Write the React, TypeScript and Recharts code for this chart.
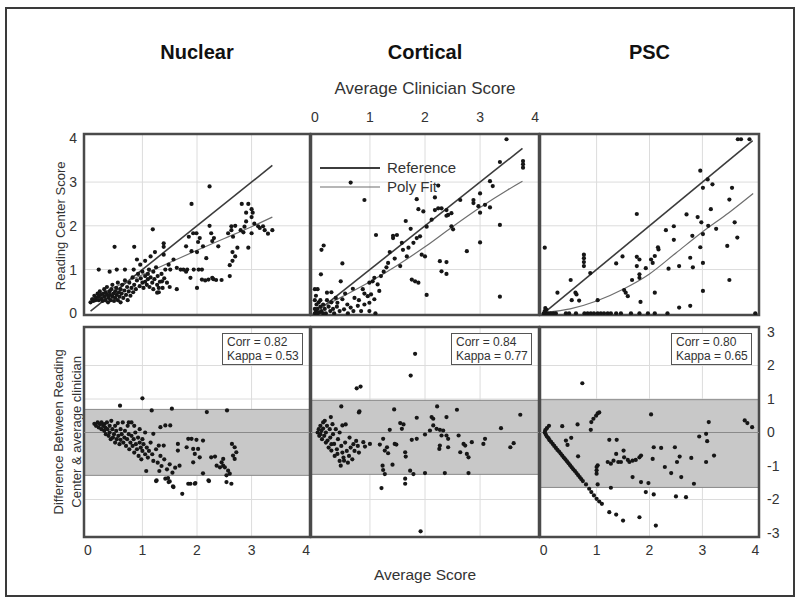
import { CartesianGrid, ComposedChart, Legend, Line, ReferenceArea, ReferenceLine, Scatter, XAxis, YAxis } from "recharts";

type Pair = [number, number];

const panelTitles = ["Nuclear", "Cortical", "PSC"];
const scoreTicks = [0, 1, 2, 3, 4];
const diffTicks = [-3, -2, -1, 0, 1, 2, 3];
const corrValues = ["0.82", "0.84", "0.80"];
const kappaValues = ["0.53", "0.77", "0.65"];
const bandLow = [-1.28, -1.25, -1.64];
const bandHigh = [0.69, 0.96, 0.98];
const legendOrder = ["Reference", "Poly Fit"];

const nuclearRef: Pair[] = [[0.05, 0.05], [3.38, 3.38]];
const corticalRef: Pair[] = [[0.1, 0.1], [3.77, 3.77]];
const pscRef: Pair[] = [[0.03, 0.03], [3.95, 3.95]];
const nuclearPoly: Pair[] = [[0.05, 0.33], [0.5, 0.6], [1, 0.88], [1.5, 1.16], [2, 1.44], [2.5, 1.71], [3, 1.98], [3.38, 2.2]];
const corticalPoly: Pair[] = [[0.1, 0.12], [0.5, 0.38], [1, 0.72], [1.5, 1.1], [2, 1.52], [2.5, 1.98], [3, 2.42], [3.5, 2.82], [3.77, 3.02]];
const pscPoly: Pair[] = [[0.05, 0.02], [0.5, 0.1], [1, 0.28], [1.5, 0.55], [2, 0.9], [2.5, 1.38], [3, 1.86], [3.5, 2.3], [3.96, 2.74]];

const nuclearTop: Pair[] = [
  [0.05, 0.25], [0.08, 0.32], [0.1, 0.28], [0.12, 0.4], [0.14, 0.3], [0.15, 0.35], [0.18, 0.45], [0.2, 0.3], [0.2, 0.38], [0.22, 0.5],
  [0.24, 0.42], [0.25, 0.33], [0.27, 0.28], [0.28, 0.45], [0.3, 0.55], [0.3, 0.38], [0.32, 0.3], [0.33, 0.48], [0.35, 0.42], [0.35, 0.6],
  [0.37, 0.25], [0.38, 0.35], [0.4, 0.5], [0.4, 0.42], [0.42, 0.3], [0.43, 0.55], [0.45, 0.38], [0.45, 0.65], [0.47, 0.45], [0.48, 0.28],
  [0.5, 0.5], [0.5, 0.35], [0.52, 0.58], [0.53, 0.42], [0.55, 0.3], [0.55, 0.7], [0.57, 0.48], [0.58, 0.38], [0.6, 0.55], [0.6, 0.25],
  [0.62, 0.45], [0.63, 0.65], [0.65, 0.35], [0.67, 0.52], [0.68, 0.75], [0.7, 0.42], [0.72, 0.6], [0.73, 0.3], [0.75, 0.5], [0.76, 0.7],
  [0.78, 0.4], [0.8, 0.58], [0.82, 0.82], [0.83, 0.48], [0.85, 0.65], [0.88, 0.55], [0.9, 0.75], [0.92, 0.9],
  [0.95, 0.62], [0.97, 0.8], [1.0, 0.7], [1.0, 0.95], [1.02, 0.58], [1.05, 0.85], [1.05, 0.72], [1.08, 0.65], [1.1, 0.9], [1.1, 0.78],
  [1.12, 1.0], [1.13, 0.6], [1.15, 0.82], [1.18, 0.7], [1.2, 0.95], [1.2, 0.55], [1.22, 0.78], [1.25, 1.05], [1.27, 0.65], [1.28, 0.85],
  [1.3, 0.48], [1.32, 0.72], [1.35, 0.9], [1.37, 0.58], [1.4, 0.8], [1.42, 1.0], [1.45, 0.7],
  [0.2, 1.0], [0.4, 0.95], [0.53, 1.0], [0.68, 1.0], [0.84, 1.0], [0.96, 1.11], [1.57, 1.23], [1.48, 1.11], [1.51, 1.0], [1.63, 1.04],
  [1.7, 1.0], [1.82, 1.0], [1.94, 1.0], [2.03, 1.0], [2.09, 1.0],
  [0.49, 1.52], [0.85, 1.52], [1.19, 1.92], [1.39, 1.6], [1.39, 1.52], [1.23, 1.4], [0.9, 1.23], [1.39, 1.34], [1.05, 1.2], [1.15, 1.3],
  [1.88, 0.81], [2.0, 0.58], [1.63, 0.55], [1.3, 0.58], [1.36, 0.73], [1.27, 0.47], [2.09, 0.77], [2.21, 0.77], [2.28, 0.81], [1.5, 0.6],
  [2.15, 0.75], [2.3, 0.78], [2.35, 0.76], [2.45, 0.76], [2.6, 0.85], [2.6, 1.1], [2.65, 1.2], [1.8, 0.95], [1.75, 1.0], [1.9, 1.42],
  [1.8, 1.53], [2.11, 1.53], [2.17, 1.26], [2.39, 1.53], [1.93, 1.83], [1.99, 1.83], [2.05, 1.72], [2.02, 1.63], [2.23, 2.0], [2.26, 1.83],
  [2.31, 1.72], [2.28, 1.65], [2.23, 2.9], [1.9, 2.5], [1.85, 1.75], [2.0, 1.4],
  [2.82, 2.5], [2.94, 2.5], [3.0, 2.38], [3.02, 2.3], [3.0, 2.2], [2.9, 2.1], [2.87, 1.98], [2.63, 1.99], [2.63, 1.9], [3.12, 1.99],
  [3.21, 1.99], [3.24, 1.9], [3.3, 1.82], [3.38, 1.9], [3.0, 1.83], [2.94, 1.5], [2.74, 1.5], [2.57, 1.83], [2.66, 1.75], [2.7, 1.3],
  [2.65, 1.4], [2.8, 1.9], [2.85, 1.85], [3.05, 2.05], [3.15, 1.95], [2.7, 2.0], [2.9, 2.3],
];

const nuclearDiff: Pair[] = [
  [0.12, 0.26], [0.15, 0.2], [0.18, 0.3], [0.2, 0.15], [0.22, 0.25], [0.25, 0.1], [0.25, 0.3], [0.28, 0.2], [0.3, 0.05], [0.3, 0.25],
  [0.32, 0.15], [0.33, -0.05], [0.35, 0.3], [0.36, 0.1], [0.38, -0.1], [0.4, 0.2], [0.4, 0.0], [0.42, -0.2], [0.43, 0.35], [0.45, 0.1],
  [0.46, -0.15], [0.48, -0.05], [0.5, 0.2], [0.5, -0.3], [0.52, 0.05], [0.53, -0.2], [0.55, 0.28], [0.56, -0.1], [0.58, -0.35], [0.6, 0.1],
  [0.6, -0.22], [0.62, -0.05], [0.64, 0.3], [0.65, -0.3], [0.67, -0.15], [0.68, 0.05], [0.7, -0.4], [0.72, -0.2], [0.73, 0.2], [0.75, -0.05],
  [0.76, -0.5], [0.78, -0.3], [0.8, -0.1], [0.8, 0.3], [0.82, -0.4], [0.84, -0.2], [0.85, -0.6], [0.87, 0.0], [0.88, -0.35], [0.9, -0.5],
  [0.92, -0.15], [0.93, -0.7], [0.95, -0.3], [0.97, -0.45], [0.98, -0.8], [1.0, -0.55], [1.0, -0.2], [1.02, -0.35], [1.05, -0.65], [1.05, 0.0],
  [1.08, -0.45], [1.1, -0.75], [1.12, -0.55], [1.15, -0.3], [1.18, -0.65], [1.2, -0.85], [1.2, -0.04], [1.25, -0.5], [1.28, -0.9], [1.3, -0.39],
  [1.33, -0.7], [1.35, -1.0], [1.39, -0.39], [1.4, -0.8], [1.45, -1.1], [1.5, -0.95], [1.55, -1.2], [1.6, -1.05],
  [1.0, 1.02], [0.59, 0.8], [1.17, 0.66], [1.54, 0.71], [2.18, 0.61], [2.55, 0.66], [1.33, 0.16], [1.42, 0.21], [1.51, 0.21], [0.75, 0.3],
  [0.85, 0.2], [0.95, 0.1],
  [1.26, -1.43], [1.42, -1.38], [1.48, -1.48], [1.57, -1.63], [1.88, -1.53], [1.97, -1.51], [2.21, -1.43], [1.73, -1.83], [1.25, -1.45],
  [1.07, -1.15], [1.31, -1.15], [1.47, -1.36], [1.5, -1.46], [1.56, -1.61],
  [1.65, -0.34], [1.65, -0.54], [1.84, -0.19], [1.9, -0.19], [1.99, -0.22], [1.81, -0.44], [1.93, -0.49], [2.02, -0.49], [1.96, -0.64],
  [1.93, -0.89], [2.05, -0.74], [1.68, -0.99], [1.84, -1.53], [1.96, -1.53], [2.11, -1.22], [2.22, -1.45], [2.11, -0.24],
  [2.26, -0.74], [2.33, -0.72], [2.36, -0.99], [2.42, -1.04], [2.48, -0.99], [2.45, -0.89], [2.51, -1.04], [2.57, -1.14], [2.54, -1.28],
  [2.6, -1.23], [2.63, -1.53], [2.54, -1.48], [2.48, -0.79], [2.64, -0.34], [2.69, -0.44], [2.72, -0.59], [2.66, -0.69], [2.69, -0.79],
];

const corticalTop: Pair[] = [
  [0.0, 0.0], [0.02, 0.05], [0.05, 0.0], [0.05, 0.1], [0.08, 0.02], [0.1, 0.15], [0.12, 0.05], [0.15, 0.0], [0.03, 0.2], [0.07, 0.25],
  [0.1, 0.3], [0.15, 0.2], [0.18, 0.1], [0.2, 0.0], [0.22, 0.3], [0.25, 0.15], [0.28, 0.05], [0.3, 0.25], [0.33, 0.1], [0.35, 0.0],
  [0.38, 0.35], [0.4, 0.15], [0.45, 0.05], [0.0, 0.1], [0.0, 0.3], [0.02, 0.4], [0.0, 0.55], [0.05, 0.55], [0.22, 0.47], [0.3, 0.48],
  [0.47, 0.73], [0.11, 0.89], [0.5, 1.14], [0.12, 1.45], [0.16, 1.55],
  [0.69, 0.56], [0.87, 0.55], [0.99, 0.7], [1.05, 0.73], [1.08, 0.81], [1.14, 0.66], [1.17, 0.51], [1.02, 0.43], [0.96, 0.39], [1.08, 0.32],
  [0.99, 0.24], [0.9, 0.2], [0.78, 0.17], [0.65, 0.13], [0.53, 0.09], [0.59, 0.2], [0.5, 0.32], [0.41, 0.24], [0.84, 0.05], [0.99, 0.05],
  [0.72, 0.35], [0.6, 0.0], [0.7, 0.05], [0.8, 0.3], [1.1, 0.0], [0.55, 0.45], [0.9, 0.45],
  [0.65, 2.99], [0.9, 2.59], [1.11, 1.79], [1.65, 2.11], [1.74, 1.93], [1.49, 1.79], [1.42, 1.72], [1.58, 1.61], [1.36, 1.4], [1.33, 1.15],
  [1.55, 1.08], [1.67, 1.3], [1.85, 1.72], [1.79, 1.61], [1.91, 1.76], [1.94, 1.34], [2.0, 1.3], [2.27, 1.19], [2.39, 1.17], [2.3, 0.96],
  [2.39, 0.9], [1.76, 0.77], [1.82, 0.73], [1.88, 0.7], [2.03, 0.42], [1.42, 1.77], [1.25, 0.95], [1.3, 1.05], [1.2, 0.85], [1.45, 1.25],
  [1.6, 1.45], [1.7, 1.5],
  [1.85, 2.61], [2.18, 2.65], [2.24, 2.92], [1.88, 2.38], [1.97, 2.33], [2.12, 2.14], [2.18, 2.36], [2.24, 2.4], [2.03, 1.98], [2.3, 2.4],
  [2.39, 2.36], [2.42, 2.25], [2.48, 2.29], [2.39, 2.23], [2.64, 2.59], [2.88, 2.59], [2.88, 2.52], [3.0, 2.74], [2.97, 2.45], [3.09, 2.48],
  [3.18, 2.42], [3.0, 2.3], [2.48, 1.99], [2.51, 1.92], [3.0, 1.62], [3.36, 2.02], [3.36, 0.38], [2.76, 1.42],
  [3.48, 3.98], [3.36, 3.46], [3.18, 3.02], [3.23, 2.91], [3.78, 3.48], [3.78, 3.41], [3.78, 3.33],
];

const corticalDiff: Pair[] = [
  [0.05, 0.0], [0.07, 0.1], [0.08, -0.1], [0.1, 0.2], [0.1, -0.05], [0.12, 0.05], [0.13, -0.2], [0.15, 0.3], [0.15, 0.12], [0.17, -0.1],
  [0.18, 0.35], [0.2, -0.3], [0.2, 0.0], [0.22, 0.2], [0.23, -0.24], [0.25, -0.45], [0.27, 0.1], [0.28, -0.15], [0.29, 0.46], [0.3, -0.54],
  [0.3, -0.35], [0.32, 0.25], [0.33, -0.05], [0.35, -0.34], [0.36, -0.7], [0.38, 0.1], [0.4, -0.5], [0.41, -0.64], [0.42, -0.2], [0.45, -0.85],
  [0.45, 0.0], [0.47, -0.99], [0.48, -0.4], [0.5, 0.21], [0.5, -0.6], [0.52, -0.75], [0.53, -0.84], [0.55, -0.3], [0.56, 0.24], [0.58, -0.55],
  [0.6, -0.9], [0.62, -0.7], [0.63, -0.15], [0.65, -0.45], [0.68, -0.8], [0.7, -0.35], [0.72, -0.55], [0.75, -0.25], [0.78, -0.4], [0.8, -0.6],
  [1.82, 2.35], [1.74, 1.7], [0.76, 1.32], [0.83, 1.37], [0.48, 0.78], [0.81, 0.63], [1.44, 0.69], [2.22, 0.78], [2.58, 0.68], [3.73, 0.53],
  [1.85, 0.44], [2.12, 0.46], [2.39, 0.46], [3.38, 0.13], [0.8, 0.6],
  [0.88, -0.29], [0.91, -0.42], [1.0, -0.34], [1.18, -0.36], [1.24, -0.19], [1.27, -0.54], [1.31, -0.44], [1.33, -0.62], [1.23, -0.99],
  [1.24, -1.12], [1.27, -1.24], [1.41, -0.96], [1.45, -0.34], [1.55, 0.28], [1.61, 0.24], [1.58, 0.11], [1.64, -0.59], [1.65, -0.72],
  [1.64, -1.38], [1.64, -1.53], [1.73, -1.14], [1.79, -1.24], [1.76, -0.22], [1.85, -0.19], [2.0, -0.06], [2.09, 0.06], [2.15, 0.41],
  [2.15, 0.21], [2.21, 0.11], [2.27, 0.08], [2.33, 0.06], [2.3, -0.09], [2.39, -0.09], [2.42, -0.19], [2.27, -0.39], [2.26, -0.49],
  [2.42, -0.44], [2.61, -0.09], [2.64, -0.59], [2.7, -0.34], [2.73, -0.39], [2.76, -0.64], [2.79, -0.74], [2.79, -1.21], [2.36, -1.21],
  [2.0, -1.21], [1.21, -1.66], [1.92, -2.95], [2.85, -0.29], [3.06, -0.34], [3.09, -0.19], [3.55, -0.44], [3.61, -0.32], [1.36, 0.08],
  [1.48, -0.36],
];

const pscTop: Pair[] = [
  [3.67, 3.98], [3.73, 3.98], [3.89, 3.98], [2.96, 3.26], [3.1, 3.06], [3.01, 2.87], [3.19, 2.95], [3.56, 2.87], [3.51, 2.6], [3.16, 2.38],
  [2.7, 2.26], [2.91, 2.2], [2.98, 2.08], [3.11, 2.0], [3.26, 1.93], [3.61, 2.08], [3.66, 1.73], [3.47, 1.54], [3.51, 0.76], [3.01, 1.81],
  [2.81, 1.77], [2.96, 1.51], [3.01, 1.15], [3.01, 0.51], [2.46, 1.99], [2.31, 1.9], [2.46, 1.68], [2.77, 1.27], [2.82, 1.05], [2.56, 1.08],
  [2.36, 1.02], [1.76, 2.27], [2.16, 1.51], [2.17, 1.46], [1.49, 1.3], [1.76, 1.29], [1.81, 1.23], [1.76, 1.08], [1.93, 1.03], [2.03, 1.23],
  [2.06, 1.15], [2.1, 1.31], [1.37, 1.14], [1.81, 0.89], [1.81, 0.81], [1.67, 0.76], [2.1, 0.47], [1.83, 0.26], [1.52, 0.53], [1.55, 0.47],
  [1.59, 0.39], [0.76, 1.34], [0.76, 1.26], [0.76, 1.17], [0.76, 1.08], [0.88, 0.92], [0.51, 0.76], [0.26, 0.47], [0.6, 0.47], [0.62, 0.43],
  [0.53, 0.3], [0.67, 0.29], [1.02, 0.3], [0.02, 1.5], [2.56, 0.13], [2.77, 0.17], [4.0, 0.0],
  [0.0, 0.0], [0.04, 0.0], [0.08, 0.0], [0.13, 0.0], [0.18, 0.0], [0.23, 0.0], [0.42, 0.0], [0.48, 0.0], [0.61, 0.0], [0.77, 0.0],
  [0.83, 0.0], [0.89, 0.0], [0.95, 0.0], [1.02, 0.0], [1.08, 0.0], [1.14, 0.0], [1.21, 0.0], [1.27, 0.0], [1.37, 0.0], [1.46, 0.0],
  [1.65, 0.0], [1.81, 0.0], [1.97, 0.0], [2.1, 0.0], [2.34, 0.0], [0.02, 0.05], [0.05, 0.08], [0.03, 0.12],
];

const pscDiff: Pair[] = [
  [0.02, 0.0], [0.04, -0.06], [0.06, -0.12], [0.09, -0.17], [0.11, -0.23], [0.14, -0.28], [0.17, -0.34], [0.2, -0.4], [0.23, -0.46],
  [0.26, -0.52], [0.29, -0.57], [0.32, -0.63], [0.35, -0.69], [0.38, -0.75], [0.41, -0.8], [0.44, -0.86], [0.47, -0.92], [0.5, -0.98],
  [0.53, -1.04], [0.56, -1.1], [0.59, -1.15], [0.62, -1.21], [0.65, -1.27], [0.68, -1.33], [0.71, -1.39], [0.74, -1.45], [0.8, -1.55],
  [0.86, -1.68], [0.9, -1.78], [0.95, -1.88], [1.0, -1.98], [1.05, -2.06], [1.1, -2.13], [0.03, 0.07], [0.06, 0.13], [0.1, 0.2],
  [1.24, -2.38], [1.37, -2.45], [1.5, -2.63], [1.81, -2.53], [2.12, -2.78],
  [0.73, 1.47], [2.03, 0.54], [0.9, 0.31], [0.94, 0.41], [0.99, 0.5], [1.02, 0.57], [1.05, 0.6], [0.89, 0.08], [0.35, 0.19], [0.64, 0.24],
  [0.42, -0.24], [0.45, -0.37], [0.52, -0.16], [0.65, -0.71], [1.24, -0.22], [1.38, -0.22],
  [1.21, -0.88], [1.27, -0.93], [1.32, -0.84], [1.37, -0.64], [1.41, -0.88], [1.46, -0.88], [1.51, -0.54], [1.52, -0.74], [1.59, -0.82],
  [1.62, -0.88], [1.68, -0.84], [1.74, -0.82], [1.81, -0.74], [1.84, -0.69], [1.68, -1.33], [1.84, -1.48], [1.93, -1.78], [1.98, -1.51],
  [2.08, -1.85], [2.06, -0.79], [2.08, -0.44], [2.22, -0.46], [2.29, -1.03], [2.41, -1.21], [2.48, -0.44], [2.52, -0.88], [2.57, -0.72],
  [2.6, -1.33], [2.5, -1.91], [2.69, -1.93], [2.79, -0.76], [2.84, -1.53], [2.94, -0.12], [3.07, -0.04], [3.09, -0.26], [3.07, -0.88],
  [3.22, -0.69], [3.12, 0.31], [3.8, 0.36], [3.85, 0.28], [3.94, 0.16], [1.0, -1.03], [1.0, -1.13], [1.0, -1.23], [1.02, -0.98],
  [1.02, -1.55], [1.27, -1.65],
];

const FONT = '"Liberation Sans", Arial, Helvetica, sans-serif';
const COLS = [{ left: 84, width: 226 }, { left: 311, width: 228 }, { left: 540, width: 219 }];
const ROWS = [{ top: 134, height: 181 }, { top: 327, height: 210 }];
const X_DOMAIN: [number, number] = [-0.07, 4.07];
const TOP_DOMAIN: [number, number] = [-0.04, 4.1];
const DIFF_DOMAIN: [number, number] = [-3.12, 3.15];
const AXIS_W = 30;
const AXIS_H = 26;
const PAD = 10;

const toPoints = (rows: Pair[]) => rows.map(([x, y]) => ({ x, y }));
const Dot = (props: any) => <circle cx={props.cx} cy={props.cy} r={2.1} fill="#161616" />;

function LegendBox({ payload }: any) {
  const items = [...(payload ?? [])].sort((a: any, b: any) => legendOrder.indexOf(a.value) - legendOrder.indexOf(b.value));
  return <div>
    {items.map((entry: any) => <div key={entry.value} style={{ display: "flex", alignItems: "center", height: 19 }}>
      <svg width={62} height={8}><line x1={0} x2={60} y1={4} y2={4} stroke={entry.color} strokeWidth={entry.value === "Reference" ? 2 : 1.2} /></svg>
      <span style={{ marginLeft: 5, fontSize: 15, fontFamily: FONT, color: "#333" }}>{entry.value}</span>
    </div>)}
  </div>;
}

function Panel({ col, row, points, refLine, poly, xSide, ySide, legend = false }: {
  col: number; row: number; points: Pair[]; refLine?: Pair[]; poly?: Pair[];
  xSide?: "top" | "bottom"; ySide?: "left" | "right"; legend?: boolean;
}) {
  const { left, width } = COLS[col];
  const { top, height } = ROWS[row];
  const padL = (ySide === "left" ? AXIS_W : 0) + PAD;
  const padR = (ySide === "right" ? AXIS_W : 0) + PAD;
  const padT = (xSide === "top" ? AXIS_H : 0) + PAD;
  const padB = (xSide === "bottom" ? AXIS_H : 0) + PAD;
  const yDomain = row === 0 ? TOP_DOMAIN : DIFF_DOMAIN;
  const tick = { fill: "#333", fontSize: 14, fontFamily: FONT };
  return <div style={{ position: "absolute", left: left - padL, top: top - padT }}>
    <ComposedChart width={width + padL + padR} height={height + padT + padB} margin={{ top: PAD, right: PAD, bottom: PAD, left: PAD }}>
      <CartesianGrid stroke="#dcdcdc" horizontalValues={row === 0 ? [1, 2, 3] : [-2, -1, 0, 1, 2]} verticalValues={[1, 2, 3]} />
      <XAxis type="number" dataKey="x" domain={X_DOMAIN} allowDataOverflow ticks={scoreTicks} hide={!xSide} orientation={xSide ?? "bottom"}
        height={AXIS_H} axisLine={false} tickLine={false} tick={tick} tickMargin={xSide === "top" ? 6 : 2} interval={0} />
      <YAxis type="number" dataKey="y" domain={yDomain} allowDataOverflow ticks={row === 0 ? scoreTicks : diffTicks} hide={!ySide}
        orientation={ySide ?? "left"} width={AXIS_W} axisLine={false} tickLine={false} tick={tick} tickMargin={ySide === "left" ? 1 : 2} interval={0} />
      {row === 1 && <ReferenceArea y1={bandLow[col]} y2={bandHigh[col]} fill="#c8c8c8" fillOpacity={1} stroke="#8a8a8a" strokeWidth={1} />}
      {row === 1 && <ReferenceLine y={0} stroke="#8a8a8a" strokeWidth={1} />}
      <Scatter data={toPoints(points)} shape={Dot} legendType="none" isAnimationActive={false} />
      {refLine && <Line data={toPoints(refLine)} dataKey="y" name="Reference" stroke="#3c3c3c" strokeWidth={1.6} dot={false} legendType="line" isAnimationActive={false} />}
      {poly && <Line data={toPoints(poly)} dataKey="y" type="monotone" name="Poly Fit" stroke="#6e6e6e" strokeWidth={1.2} dot={false} legendType="line" isAnimationActive={false} />}
      <ReferenceArea x1={X_DOMAIN[0]} x2={X_DOMAIN[1]} y1={yDomain[0]} y2={yDomain[1]} fill="none" stroke="#4a4a4a" strokeWidth={2.5} ifOverflow="visible" />
      {legend && <Legend layout="horizontal" verticalAlign="middle" align="center" content={LegendBox}
        wrapperStyle={{ left: padL + 9, top: padT + 5, width: 160, height: 40 }} />}
    </ComposedChart>
    {row === 1 && <div style={{
      position: "absolute", left: padL + width - 88, top: padT + 6, width: 81, height: 32, boxSizing: "border-box",
      border: "1.5px solid #555", background: "#fff", fontFamily: FONT, fontSize: 12, lineHeight: "14px", color: "#333", padding: "1px 0 0 4px",
    }}>
      <div>Corr = {corrValues[col]}</div>
      <div>Kappa = {kappaValues[col]}</div>
    </div>}
  </div>;
}

function Rotated({ cx, cy, text, size }: { cx: number; cy: number; text: string; size: number }) {
  return <div style={{
    position: "absolute", left: cx - 120, top: cy - size * 0.6, width: 240, height: size * 1.2, lineHeight: `${size * 1.2}px`,
    textAlign: "center", fontSize: size, fontFamily: FONT, color: "#333", transform: "rotate(-90deg)", whiteSpace: "nowrap",
  }}>{text}</div>;
}

function Centered({ cx, cy, text, size, bold = false }: { cx: number; cy: number; text: string; size: number; bold?: boolean }) {
  return <div style={{
    position: "absolute", left: cx - 150, top: cy - size * 0.6, width: 300, height: size * 1.2, lineHeight: `${size * 1.2}px`,
    textAlign: "center", fontSize: size, fontWeight: bold ? 700 : 400, fontFamily: FONT, color: bold ? "#111" : "#333", whiteSpace: "nowrap",
  }}>{text}</div>;
}

export default function App() {
  return <div style={{ position: "absolute", left: 0, top: 0, width: 800, height: 602, background: "#fff", overflow: "hidden" }}>
    <div style={{ position: "absolute", left: 5, top: 7, width: 790, height: 590, boxSizing: "border-box", border: "2px solid #3a3a3a" }} />
    {panelTitles.map((title, i) => <Centered key={title} cx={COLS[i].left + COLS[i].width / 2} cy={52} text={title} size={20} bold />)}
    <Centered cx={425} cy={89} text="Average Clinician Score" size={17} />
    <Centered cx={425} cy={575} text="Average Score" size={15.5} />
    <Rotated cx={61} cy={226} text="Reading Center Score" size={13} />
    <Rotated cx={59} cy={432} text="Difference Between Reading" size={13} />
    <Rotated cx={77} cy={432} text="Center & average clinician" size={13} />
    <Panel col={0} row={0} points={nuclearTop} refLine={nuclearRef} poly={nuclearPoly} ySide="left" />
    <Panel col={1} row={0} points={corticalTop} refLine={corticalRef} poly={corticalPoly} xSide="top" legend />
    <Panel col={2} row={0} points={pscTop} refLine={pscRef} poly={pscPoly} />
    <Panel col={0} row={1} points={nuclearDiff} xSide="bottom" />
    <Panel col={1} row={1} points={corticalDiff} />
    <Panel col={2} row={1} points={pscDiff} xSide="bottom" ySide="right" />
  </div>;
}
